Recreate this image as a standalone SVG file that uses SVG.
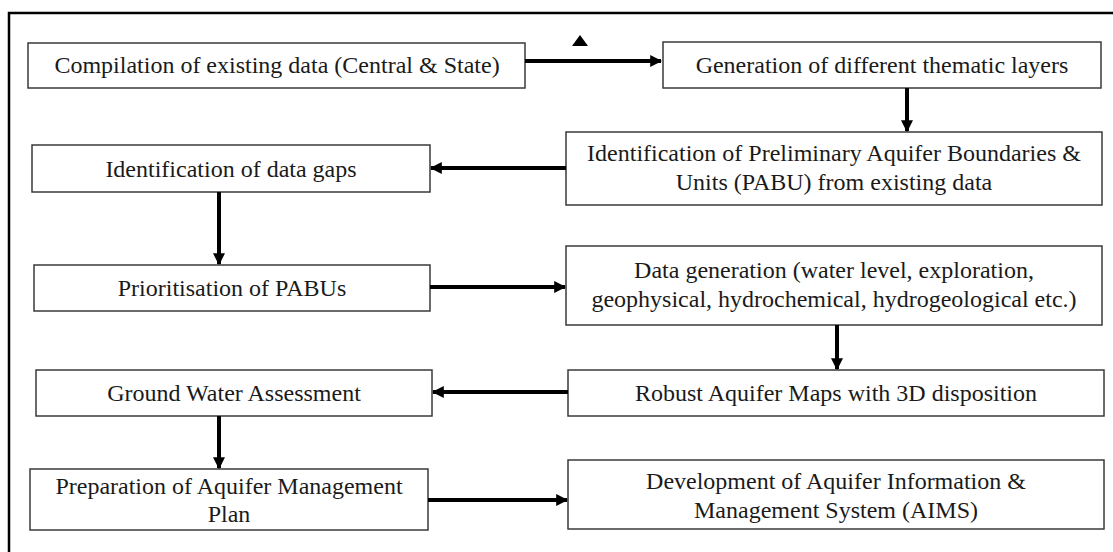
<svg xmlns="http://www.w3.org/2000/svg" width="1113" height="552" viewBox="0 0 1113 552">
<style>
.box{fill:#fff;stroke:#3a3a3a;stroke-width:1.5}
.t{font-family:"Liberation Serif","Times New Roman",serif;font-size:24px;fill:#1a1a1a;text-anchor:middle}
.c{stroke:#000;stroke-width:4;fill:none}
</style>
<defs>
<marker id="ah" viewBox="0 0 10 10" refX="9" refY="5" markerWidth="3" markerHeight="3" orient="auto" markerUnits="strokeWidth">
<path d="M0,0 L10,5 L0,10 z" fill="#000"/>
</marker>
</defs>
<rect width="1113" height="552" fill="#fff"/>
<path d="M9,560 V13 H1120" fill="none" stroke="#000" stroke-width="2.5"/>
<g id="n1"><rect class="box" x="28" y="43" width="497" height="45"/><text class="t" x="277" y="73">Compilation of existing data (Central &amp; State)</text></g>
<g id="n2"><rect class="box" x="663" y="42" width="438" height="46"/><text class="t" x="882" y="73">Generation of different thematic layers</text></g>
<g id="n3"><rect class="box" x="566" y="132" width="536" height="73"/><text class="t" x="834" y="161">Identification of Preliminary Aquifer Boundaries &amp;</text><text class="t" x="834" y="190">Units (PABU) from existing data</text></g>
<g id="n4"><rect class="box" x="32" y="145" width="398" height="47"/><text class="t" x="231" y="177">Identification of data gaps</text></g>
<g id="n5"><rect class="box" x="34" y="265" width="396" height="46"/><text class="t" x="232" y="296">Prioritisation of PABUs</text></g>
<g id="n6"><rect class="box" x="566" y="246" width="536" height="79"/><text class="t" x="834" y="278">Data generation (water level, exploration,</text><text class="t" x="834" y="307">geophysical, hydrochemical, hydrogeological etc.)</text></g>
<g id="n7"><rect class="box" x="568" y="370" width="536" height="46"/><text class="t" x="836" y="401">Robust Aquifer Maps with 3D disposition</text></g>
<g id="n8"><rect class="box" x="36" y="370" width="396" height="46"/><text class="t" x="234" y="401">Ground Water Assessment</text></g>
<g id="n9"><rect class="box" x="30" y="469" width="398" height="61"/><text class="t" x="229" y="494">Preparation of Aquifer Management</text><text class="t" x="229" y="522">Plan</text></g>
<g id="n10"><rect class="box" x="568" y="460" width="536" height="69"/><text class="t" x="836" y="489">Development of Aquifer Information &amp;</text><text class="t" x="836" y="518">Management System (AIMS)</text></g>
<g id="connectors">
<line class="c" x1="525" y1="61" x2="661" y2="61" marker-end="url(#ah)"/>
<line class="c" x1="907" y1="88" x2="907" y2="131" marker-end="url(#ah)"/>
<line class="c" x1="566" y1="168" x2="431" y2="168" marker-end="url(#ah)"/>
<line class="c" x1="219" y1="192" x2="219" y2="264" marker-end="url(#ah)"/>
<line class="c" x1="430" y1="287" x2="565" y2="287" marker-end="url(#ah)"/>
<line class="c" x1="837" y1="325" x2="837" y2="369" marker-end="url(#ah)"/>
<line class="c" x1="568" y1="392" x2="433" y2="392" marker-end="url(#ah)"/>
<line class="c" x1="219" y1="416" x2="219" y2="468" marker-end="url(#ah)"/>
<line class="c" x1="428" y1="500" x2="567" y2="500" marker-end="url(#ah)"/>
<path d="M580,35 L572,46 L588,46 z" fill="#000"/>
</g>
</svg>
